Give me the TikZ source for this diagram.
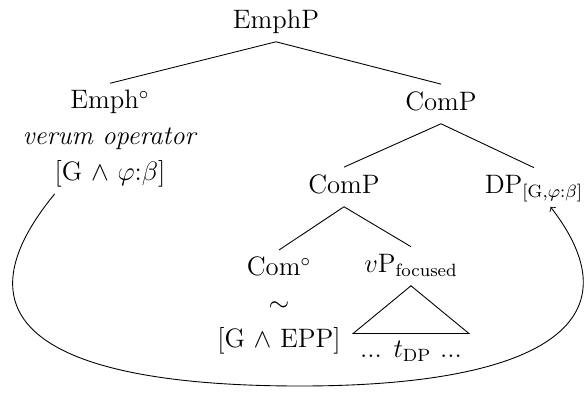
\documentclass[tikz,border=0pt]{standalone}
\usepackage{amsmath}
\usepackage{amssymb}
\usepackage{tikz}
\usetikzlibrary{arrows}

\begin{document}
\begin{tikzpicture}[x=0.45pt,y=0.45pt,
	every node/.style={font=\fontsize{12}{16}\selectfont, inner sep=3pt},
	cat/.style={anchor=base, text depth=3pt},
	stack/.style={anchor=base, align=center}]
	\useasboundingbox (0,0) rectangle (588,-393);
	% tree labels
	\path (276,-28) node (emphp) [cat] {EmphP}
		  (110,-180) node (emph) [stack] {Emph$^\circ$\\\textit{verum operator}\\{}[G $\wedge$ $\varphi$:$\beta$]}
		  (441,-110) node (comp) [cat] {ComP}
		  (344,-193) node (comp2) [cat] {ComP}
		  (534,-193) node (dp) [cat] {DP$_{[\text{G},\varphi{:}\beta]}$}
		  (279,-347) node (com) [stack] {Com$^\circ$\\$\sim$\\{}[G $\wedge$ EPP]}
		  (411,-272) node (vp) [cat] {$v$P$_{\text{focused}}$}
		  (411,-357) node (trace) [anchor=base] {... $t_{\text{DP}}$ ...};
	\coordinate (low) at (300,-386);
	\draw (emphp.south) -- (emph.north);
	\draw (emphp.south) -- (comp.north);
	\draw (comp.south) -- (comp2.north);
	\draw (comp.south) -- (dp.north);
	\draw (comp2.south) -- (com.north);
	\draw (comp2.south) -- (vp.north);
	\draw (vp.south) -- (trace.north west) -- (trace.north east) -- cycle;
	% movement of the DP
	\draw[->] (emph.225) .. controls +(-114,-139) and +(-230,0) .. (low)
		.. controls +(240,0) and +(90,-116) .. (dp.-50);
\end{tikzpicture}
\end{document}
